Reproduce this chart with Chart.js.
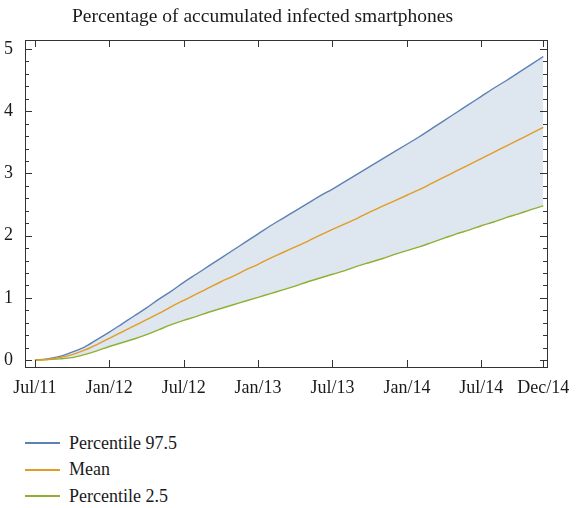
<!DOCTYPE html>
<html>
<head>
<meta charset="utf-8">
<script src="https://cdn.jsdelivr.net/npm/chart.js@4.4.0/dist/chart.umd.min.js"></script>
<style>
  html, body { margin: 0; padding: 0; background: #fff; }
  #wrap { position: relative; width: 577px; height: 397px; }
  #title { position: absolute; left: 0; top: 5px; width: 525px; text-align: center; font-family: 'Liberation Serif', serif; font-size: 19.5px; color: #1a1a1a; }
  #legend { margin: 33px 0 0 25px; font-family: 'Liberation Serif', serif; font-size: 18px; color: #1a1a1a; }
  #legend .row { display: flex; align-items: center; height: 26.5px; }
  #legend .sw { width: 35px; height: 0; border-top: 2px solid; margin-right: 9px; }
</style>
</head>
<body>
<div id="wrap">
  <canvas id="chartInfect" width="577" height="397"></canvas>
  <div id="title">Percentage of accumulated infected smartphones</div>
</div>
<div id="legend"></div>
<script>
// months since Jul/11
const MONTHS = [...Array(42).keys()];
const TICK_POS = [0, 6, 12, 18, 24, 30, 36, 41];
const TICK_LABELS = ['Jul/11', 'Jan/12', 'Jul/12', 'Jan/13', 'Jul/13', 'Jan/14', 'Jul/14', 'Dec/14'];

const P975 = [0, 0.02, 0.06, 0.13, 0.21, 0.33, 0.45, 0.58, 0.71, 0.84, 0.98, 1.11, 1.25, 1.38, 1.51, 1.64, 1.77, 1.90, 2.03, 2.16, 2.28,
  2.40, 2.52, 2.64, 2.75, 2.87, 2.99, 3.11, 3.23, 3.35, 3.47, 3.59, 3.72, 3.85, 3.98, 4.11, 4.24, 4.37, 4.49, 4.62, 4.75, 4.88];
const MEAN = [0, 0.01, 0.04, 0.09, 0.16, 0.25, 0.35, 0.45, 0.55, 0.65, 0.75, 0.86, 0.96, 1.06, 1.16, 1.26, 1.35, 1.45, 1.54, 1.64, 1.73,
  1.82, 1.91, 2.01, 2.10, 2.19, 2.28, 2.38, 2.47, 2.56, 2.65, 2.74, 2.84, 2.94, 3.04, 3.14, 3.24, 3.34, 3.44, 3.54, 3.64, 3.74];
const P025 = [0, 0.01, 0.02, 0.04, 0.09, 0.15, 0.22, 0.28, 0.34, 0.41, 0.49, 0.57, 0.64, 0.70, 0.77, 0.83, 0.89, 0.95, 1.01, 1.07, 1.13,
  1.19, 1.26, 1.32, 1.38, 1.44, 1.51, 1.57, 1.63, 1.70, 1.76, 1.82, 1.89, 1.96, 2.03, 2.09, 2.16, 2.22, 2.29, 2.35, 2.42, 2.48];

const SERIES = [
  { label: 'Percentile 97.5', data: P975, color: '#5e81b5' },
  { label: 'Mean', data: MEAN, color: '#e19c24' },
  { label: 'Percentile 2.5', data: P025, color: '#8fb032' }
];

const FONT = "'Liberation Serif', serif";

// Mathematica style frame with inward ticks on all four sides
const framePlugin = {
  id: 'frame',
  afterDraw(chart) {
    const { ctx, chartArea: a, scales } = chart;
    ctx.save();
    ctx.strokeStyle = '#333';
    ctx.lineWidth = 1;
    ctx.strokeRect(Math.round(a.left) + 0.5, Math.round(a.top) + 0.5, Math.round(a.right - a.left), Math.round(a.bottom - a.top));
    ctx.beginPath();
    TICK_POS.forEach(v => {
      const x = Math.round(scales.x.getPixelForValue(v)) + 0.5;
      ctx.moveTo(x, a.bottom); ctx.lineTo(x, a.bottom - 7);
      ctx.moveTo(x, a.top); ctx.lineTo(x, a.top + 7);
    });
    for (let i = 0; i <= 25; i++) {
      const v = i * 0.2;
      const y = Math.round(scales.y.getPixelForValue(v)) + 0.5;
      const len = i % 5 === 0 ? 7 : 4;
      ctx.moveTo(a.left, y); ctx.lineTo(a.left + len, y);
      ctx.moveTo(a.right, y); ctx.lineTo(a.right - len, y);
    }
    ctx.stroke();
    ctx.restore();
  }
};

const datasets = SERIES.map((s, i) => ({
  label: s.label,
  data: MONTHS.map((m, j) => ({ x: m, y: s.data[j] })),
  borderColor: s.color,
  backgroundColor: i === 0 ? 'rgba(222,230,239,1)' : s.color,
  borderWidth: 1.4,
  pointRadius: 0,
  cubicInterpolationMode: 'monotone',
  fill: i === 0 ? 2 : false,
  order: i === 0 ? 2 : 1
}));

new Chart(document.getElementById('chartInfect'), {
  type: 'line',
  data: { datasets: datasets },
  plugins: [framePlugin],
  options: {
    responsive: false, animation: false,
    layout: { padding: { left: 0, right: 30, top: 40, bottom: 0 } },
    plugins: {
      legend: { display: false },
      tooltip: { enabled: false },
      title: { display: false }
    },
    scales: {
      x: {
        type: 'linear', min: -0.8, max: 41.3,
        afterBuildTicks: s => { s.ticks = TICK_POS.map(v => ({ value: v })); },
        afterFit: s => { s.height = 30; },
        grid: { display: false }, border: { display: false },
        ticks: {
          autoSkip: false, maxRotation: 0, padding: 2, color: '#1a1a1a',
          font: { family: FONT, size: 18 },
          callback: v => TICK_LABELS[TICK_POS.indexOf(v)]
        }
      },
      y: {
        type: 'linear', min: -0.11, max: 5.145,
        afterBuildTicks: s => { s.ticks = [0, 1, 2, 3, 4, 5].map(v => ({ value: v })); },
        afterFit: s => { s.width = 25; },
        grid: { display: false }, border: { display: false },
        ticks: { padding: 4, color: '#1a1a1a', font: { family: FONT, size: 18 } }
      }
    }
  }
});

const leg = document.getElementById('legend');
SERIES.forEach(s => {
  const row = document.createElement('div');
  row.className = 'row';
  row.innerHTML = '<span class="sw" style="border-color:' + s.color + '"></span><span>' + s.label + '</span>';
  leg.appendChild(row);
});
</script>
</body>
</html>
